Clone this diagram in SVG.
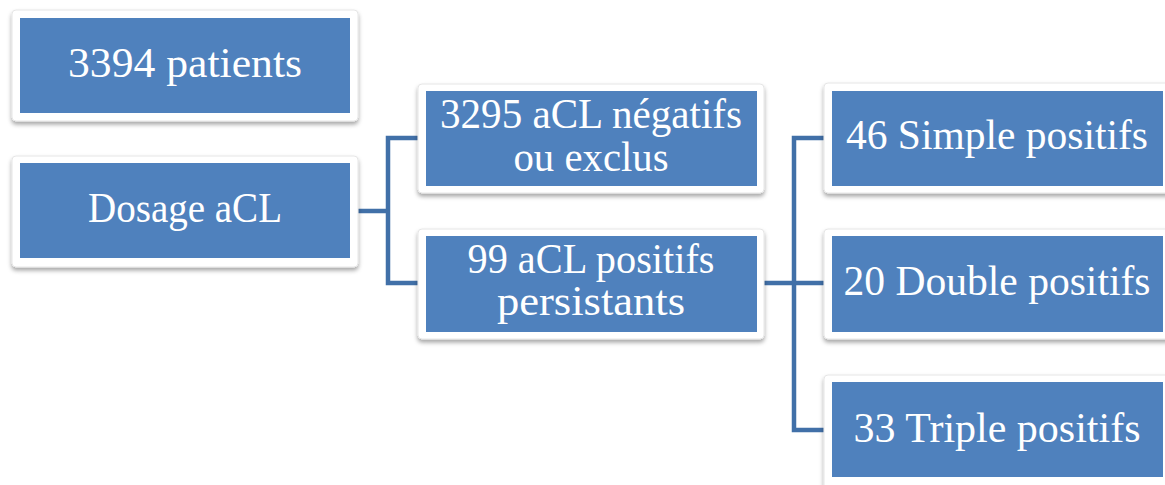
<svg xmlns="http://www.w3.org/2000/svg" width="1165" height="485" viewBox="0 0 1165 485">
<defs>
<filter id="sh" x="-10%" y="-20%" width="120%" height="150%">
<feDropShadow dx="0" dy="3" stdDeviation="2" flood-color="#000" flood-opacity="0.35"/>
</filter>
<style>
.frame{fill:#fff;stroke:#e6e6e6;stroke-width:1;filter:url(#sh)}
.box{fill:#4F81BD}
.t{font-family:"Liberation Serif","DejaVu Serif",serif;font-size:42px;fill:#fff;text-anchor:middle}
.c{fill:none;stroke:#4170A8;stroke-width:4.5;stroke-linejoin:miter}
</style>
</defs>
<rect width="1165" height="485" fill="#fff"/>
<g id="connectors">
<path class="c" d="M357 211 H388 M418 138 H388 V283 H418"/>
<path class="c" d="M764 283 H824 M824 138 H794 V430 H824"/>
</g>
<g id="n1">
<rect class="frame" x="12" y="10" width="346" height="111" rx="4"/>
<rect class="box" x="20" y="18" width="330" height="95"/>
<text class="t" x="185" y="77" textLength="234" lengthAdjust="spacingAndGlyphs">3394 patients</text>
</g>
<g id="n2">
<rect class="frame" x="12" y="156" width="346" height="111" rx="4"/>
<rect class="box" x="20" y="163" width="330" height="95"/>
<text class="t" x="185" y="222" textLength="194" lengthAdjust="spacingAndGlyphs">Dosage aCL</text>
</g>
<g id="n3">
<rect class="frame" x="418" y="84" width="346" height="109" rx="4"/>
<rect class="box" x="426" y="91" width="331" height="95"/>
<text class="t" x="591" y="128" textLength="302" lengthAdjust="spacingAndGlyphs">3295 aCL négatifs</text>
<text class="t" x="591" y="171" textLength="155" lengthAdjust="spacingAndGlyphs">ou exclus</text>
</g>
<g id="n4">
<rect class="frame" x="418" y="229" width="346" height="110" rx="4"/>
<rect class="box" x="426" y="236" width="331" height="96"/>
<text class="t" x="591" y="273" textLength="247" lengthAdjust="spacingAndGlyphs">99 aCL positifs</text>
<text class="t" x="591" y="315" textLength="188" lengthAdjust="spacingAndGlyphs">persistants</text>
</g>
<g id="n5">
<rect class="frame" x="824" y="83" width="350" height="110" rx="4"/>
<rect class="box" x="832" y="91" width="331" height="95"/>
<text class="t" x="997" y="149" textLength="302" lengthAdjust="spacingAndGlyphs">46 Simple positifs</text>
</g>
<g id="n6">
<rect class="frame" x="824" y="229" width="350" height="110" rx="4"/>
<rect class="box" x="832" y="236" width="331" height="96"/>
<text class="t" x="997" y="295" textLength="307" lengthAdjust="spacingAndGlyphs">20 Double positifs</text>
</g>
<g id="n7">
<rect class="frame" x="824" y="375" width="350" height="115" rx="4"/>
<rect class="box" x="832" y="382" width="331" height="95"/>
<text class="t" x="997" y="442" textLength="287" lengthAdjust="spacingAndGlyphs">33 Triple positifs</text>
</g>
</svg>
